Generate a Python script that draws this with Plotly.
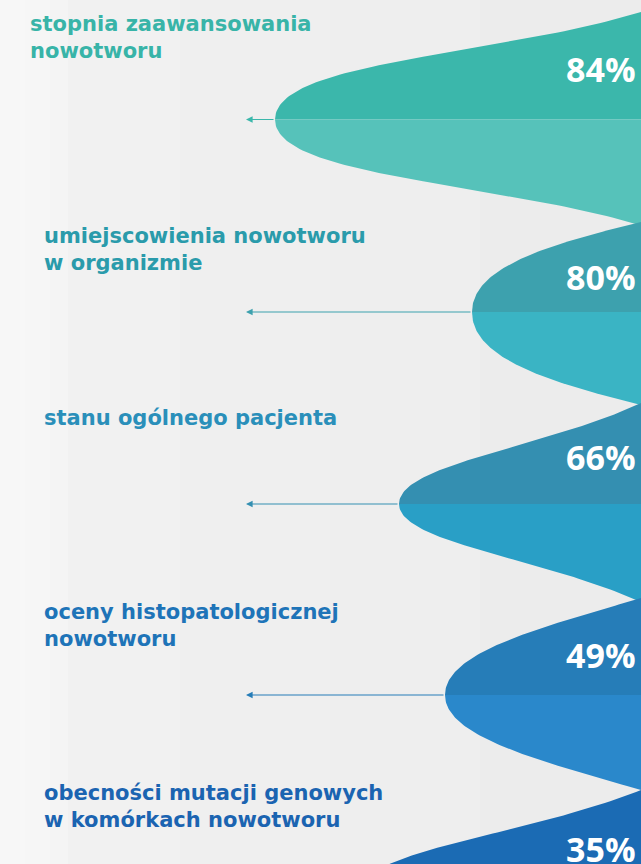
import numpy as np
import plotly.graph_objects as go

# ---------------- data ----------------
categories = [
    "stopnia zaawansowania\nnowotworu",
    "umiejscowienia nowotworu\nw organizmie",
    "stanu ogólnego pacjenta",
    "oceny histopatologicznej\nnowotworu",
    "obecności mutacji genowych\nw komórkach nowotworu",
]
values = [84, 80, 66, 49, 35]
value_labels = [f"{v}%" for v in values]

# ---------------- layout / decoration (not data) ----------------
FIG_W, FIG_H = 641, 864
bell_center_y = [119.5, 312, 504, 695, 890]
bell_tip_x = [275, 472, 399, 445, 362]
bell_half_top = [107.5, 90, 101, 97, 100]
bell_half_bot = [106, 93, 98, 95, 100]
# cubic bezier profile (a, b, c) for each bell half
bell_profile = [(0.55, 0.6, 0.58), (0.5, 0.45, 0.75), (0.4, 0.6, 0.55),
                (0.45, 0.5, 0.7), (0.4, 0.6, 0.55)]
top_colors = ["#3bb7ab", "#3da1ae", "#348fb1", "#267db8", "#1b6bb4"]
bot_colors = ["#56c2ba", "#3ab4c4", "#299fc6", "#2a88cb", "#2a7ccb"]
text_colors = ["#38b4a8", "#2a9bab", "#2a8fba", "#1e74b8", "#1b64b1"]
label_x = [28, 42, 42, 42, 42]
label_y = [24, 236, 418, 612, 793]
line_gap = 27
value_y = [69, 277, 457, 655, 849]
value_x = 638
arrow_head_x = 246
LABEL_FONT = "DejaVu Sans"
VALUE_FONT = "Open Sans"

fig = go.Figure()


def half(tip, cy, h, prof, sign, n=80):
    a, b, c = prof
    t = np.linspace(0, 1, n)
    X = 3 * (1 - t) * t ** 2 * b + t ** 3
    Y = 3 * (1 - t) ** 2 * t * a + 3 * (1 - t) * t ** 2 * c + t ** 3
    xs = tip + X * (FIG_W - tip)
    ys = cy + sign * Y * h
    xs = list(xs) + [FIG_W + 30, FIG_W + 30, tip]
    ys = list(ys) + [cy + sign * h, cy, cy]
    return xs, ys


for i in range(len(values)):
    for sign, h, col in ((-1, bell_half_top[i], top_colors[i]), (1, bell_half_bot[i], bot_colors[i])):
        xs, ys = half(bell_tip_x[i], bell_center_y[i], h, bell_profile[i], sign)
        fig.add_trace(go.Scatter(x=xs, y=ys, mode="lines", fill="toself",
                                 fillcolor=col, line=dict(width=0, color=col),
                                 hoverinfo="skip", showlegend=False))

annotations = []
for i, cat in enumerate(categories):
    for j, line in enumerate(cat.split("\n")):
        annotations.append(dict(
            x=label_x[i], y=label_y[i] + j * line_gap, xref="x", yref="y",
            text=line, showarrow=False, xanchor="left", yanchor="middle",
            font=dict(family=LABEL_FONT, size=21, color=text_colors[i], weight="bold")))
    annotations.append(dict(
        x=value_x, y=value_y[i], xref="x", yref="y", text=value_labels[i],
        showarrow=False, xanchor="right", yanchor="middle",
        font=dict(family=VALUE_FONT, size=34, color="white", weight="bold")))
    if bell_center_y[i] < FIG_H:
        annotations.append(dict(
            x=arrow_head_x, y=bell_center_y[i], ax=bell_tip_x[i], ay=bell_center_y[i],
            xref="x", yref="y", axref="x", ayref="y", text="", showarrow=True,
            arrowhead=2, arrowsize=1.1, arrowwidth=1.2, arrowcolor=top_colors[i],
            standoff=0, startstandoff=0))

# background gradient bands
bg_bands = [(0, 25, "#f7f7f7"), (25, 50, "#f6f6f6"), (50, 68, "#f4f4f4"),
            (68, 180, "#f1f1f1"), (180, 330, "#efefef"), (330, 480, "#eeeeee"),
            (480, 641, "#ececec")]
shapes = [dict(type="rect", xref="x", yref="paper", x0=a, x1=b, y0=0, y1=1,
               fillcolor=c, line=dict(width=0), layer="below") for a, b, c in bg_bands]

fig.update_layout(
    width=FIG_W, height=FIG_H, margin=dict(l=0, r=0, t=0, b=0),
    paper_bgcolor="#ececec", plot_bgcolor="#ececec",
    xaxis=dict(range=[0, FIG_W], visible=False, fixedrange=True),
    yaxis=dict(range=[FIG_H, 0], visible=False, fixedrange=True),
    annotations=annotations, shapes=shapes, showlegend=False,
)

fig.write_html("out.html", config={"displayModeBar": False, "staticPlot": True},
               post_script="document.body.style.margin='0';document.body.style.overflow='hidden';")
